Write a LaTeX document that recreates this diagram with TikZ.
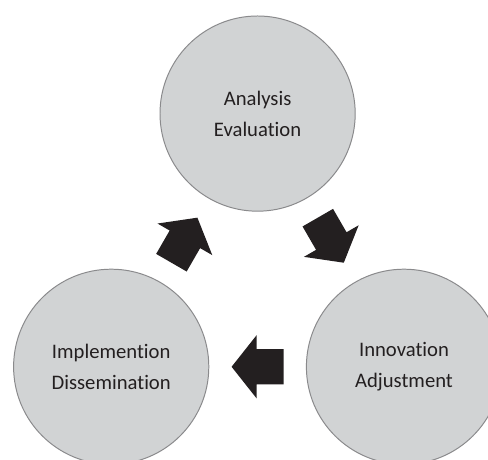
\documentclass[tikz,border=0pt]{standalone}
\usepackage{fontspec}
\setmainfont{Carlito}[Ligatures={NoCommon,NoRare,NoContextual}]
\usetikzlibrary{calc}
\usetikzlibrary{positioning}

\definecolor{phasegray}{HTML}{D1D3D4}
\definecolor{rimgray}{HTML}{8A8A8C}
\definecolor{inkblack}{HTML}{231F20}

\tikzset{
  phase/.style={circle,draw=rimgray,line width=0.7pt,fill=phasegray,minimum size=4.88cm,inner sep=0pt,
    align=center,text=inkblack,font=\fontsize{14.7}{22}\selectfont},
  cyclearrow/.style={fill=inkblack,draw=none}
}

\begin{document}
\begin{tikzpicture}
\clip (0,0) rectangle (12.2,11.5);
\fill[white] (0,0) rectangle (12.2,11.5);

% the three phases
\node[phase] (eval) at (6.44,8.66) {Analysis\\Evaluation};
\node[phase] (impl) at (2.78,2.33) {Implemention\\Dissemination};
\node[phase] (innov) at (10.10,2.33) {Innovation\\Adjustment};

% block arrows between the phases
\fill[cyclearrow,shift={($(impl)!0.5!(eval)$)},rotate=60]
  (-0.65,-0.44) -- (0.025,-0.44) -- (0.025,-0.79) -- (0.65,0) -- (0.025,0.79) -- (0.025,0.44) -- (-0.65,0.44) -- cycle;
\fill[cyclearrow,shift={($(eval)!0.5!(innov)$)},rotate=-60]
  (-0.65,-0.44) -- (0.025,-0.44) -- (0.025,-0.79) -- (0.65,0) -- (0.025,0.79) -- (0.025,0.44) -- (-0.65,0.44) -- cycle;
\fill[cyclearrow,shift={($(innov)!0.5!(impl)$)},rotate=180]
  (-0.65,-0.44) -- (0.025,-0.44) -- (0.025,-0.79) -- (0.65,0) -- (0.025,0.79) -- (0.025,0.44) -- (-0.65,0.44) -- cycle;

\end{tikzpicture}
\end{document}
